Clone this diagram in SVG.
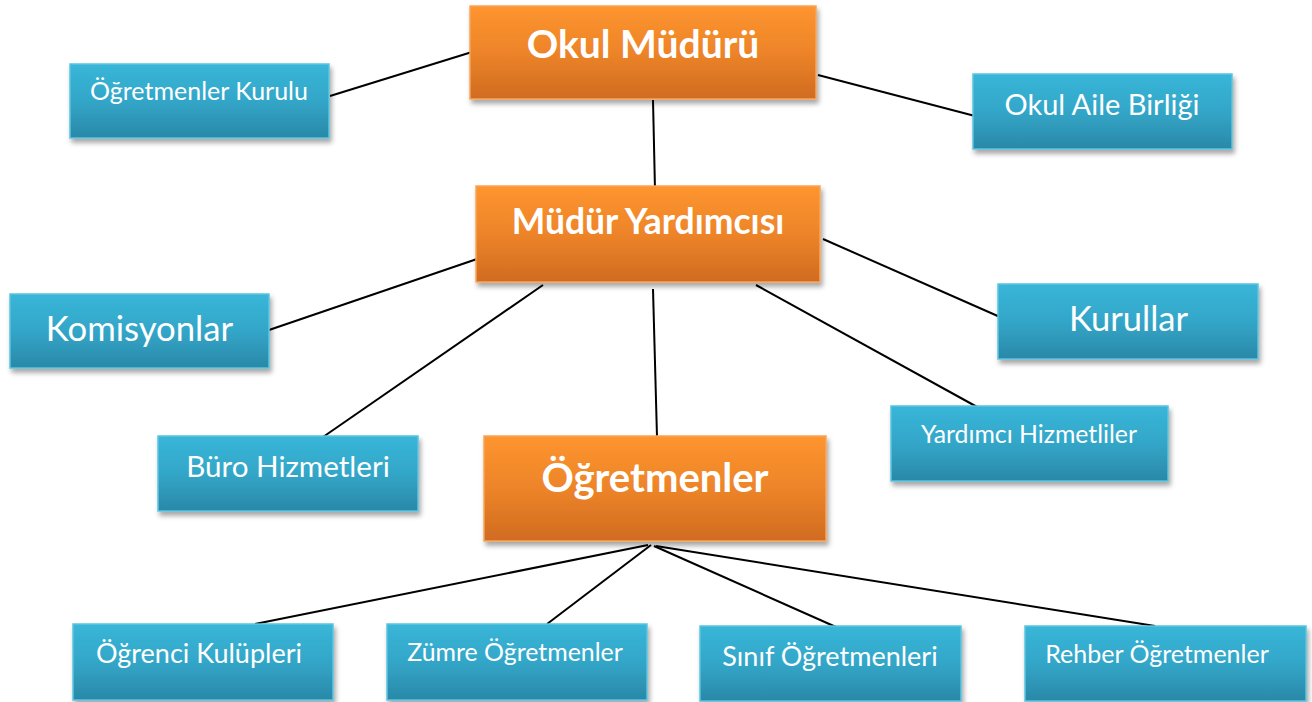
<svg xmlns="http://www.w3.org/2000/svg" width="1312" height="702" viewBox="0 0 1312 702">
<defs>
<linearGradient id="gBlue" x1="0" y1="0" x2="0" y2="1">
<stop offset="0" stop-color="#38b6d8"/>
<stop offset="0.5" stop-color="#33a6c8"/>
<stop offset="1" stop-color="#2a88a8"/>
</linearGradient>
<linearGradient id="gOrange" x1="0" y1="0" x2="0" y2="1">
<stop offset="0" stop-color="#fe952f"/>
<stop offset="0.5" stop-color="#ed8429"/>
<stop offset="1" stop-color="#d06b20"/>
</linearGradient>
<filter id="sh" x="-10%" y="-10%" width="120%" height="130%">
<feDropShadow dx="2" dy="4" stdDeviation="2.5" flood-color="#000" flood-opacity="0.35"/>
</filter>
</defs>
<style>
.blue{fill:url(#gBlue);stroke:#5cc3e0;stroke-width:1.5;filter:url(#sh)}
.orange{fill:url(#gOrange);stroke:#f8a55a;stroke-width:1.5;filter:url(#sh)}
.t{font-family:Lato,"Open Sans","Liberation Sans",sans-serif;fill:#fff;text-anchor:middle}
.b{font-weight:bold}
.conn line{stroke:#000;stroke-width:2}
</style>
<rect width="1312" height="702" fill="#fff"/>
<g class="conn">
<line x1="472" y1="52" x2="330" y2="96"/>
<line x1="818" y1="75" x2="975" y2="116"/>
<line x1="653" y1="100" x2="655" y2="190"/>
<line x1="477" y1="259" x2="269" y2="330"/>
<line x1="543" y1="285" x2="323" y2="437"/>
<line x1="653" y1="289" x2="657" y2="437"/>
<line x1="823" y1="239" x2="1000" y2="317"/>
<line x1="756" y1="285" x2="979" y2="408"/>
<line x1="648" y1="545" x2="255" y2="624"/>
<line x1="651" y1="545" x2="547" y2="624"/>
<line x1="654" y1="546" x2="836" y2="627"/>
<line x1="656" y1="546" x2="1155" y2="626"/>
</g>
<g id="okul-muduru"><rect class="orange" x="470" y="6" width="346" height="93"/><text class="t b" x="643" y="58" font-size="39">Okul Müdürü</text></g>
<g id="ogretmenler-kurulu"><rect class="blue" x="70" y="64" width="259" height="74"/><text class="t" x="199" y="100" font-size="25">Öğretmenler Kurulu</text></g>
<g id="okul-aile-birligi"><rect class="blue" x="973" y="74" width="259" height="75"/><text class="t" x="1102" y="115" font-size="29">Okul Aile Birliği</text></g>
<g id="mudur-yardimcisi"><rect class="orange" x="476" y="186" width="344" height="96"/><text class="t b" x="648" y="234" font-size="35.5">Müdür Yardımcısı</text></g>
<g id="komisyonlar"><rect class="blue" x="10" y="294" width="259" height="74"/><text class="t" x="139.5" y="341" font-size="34.7">Komisyonlar</text></g>
<g id="kurullar"><rect class="blue" x="998" y="284" width="260" height="75"/><text class="t" x="1128.5" y="331" font-size="34.5">Kurullar</text></g>
<g id="buro-hizmetleri"><rect class="blue" x="158" y="436" width="260" height="75"/><text class="t" x="288" y="477" font-size="29.6">Büro Hizmetleri</text></g>
<g id="ogretmenler"><rect class="orange" x="484" y="436" width="342" height="105"/><text class="t b" x="655" y="492" font-size="40">Öğretmenler</text></g>
<g id="yardimci-hizmetliler"><rect class="blue" x="891" y="406" width="277" height="75"/><text class="t" x="1029" y="443" font-size="24.8">Yardımcı Hizmetliler</text></g>
<g id="ogrenci-kulupleri"><rect class="blue" x="73" y="624" width="260" height="76"/><text class="t" x="199" y="663" font-size="27">Öğrenci Kulüpleri</text></g>
<g id="zumre-ogretmenler"><rect class="blue" x="387" y="624" width="260" height="76"/><text class="t" x="515" y="661" font-size="24.9">Zümre Öğretmenler</text></g>
<g id="sinif-ogretmenleri"><rect class="blue" x="700" y="626" width="261" height="75"/><text class="t" x="830" y="666" font-size="27">Sınıf Öğretmenleri</text></g>
<g id="rehber-ogretmenler"><rect class="blue" x="1025" y="626" width="281" height="75"/><text class="t" x="1157" y="663" font-size="25">Rehber Öğretmenler</text></g>
</svg>
